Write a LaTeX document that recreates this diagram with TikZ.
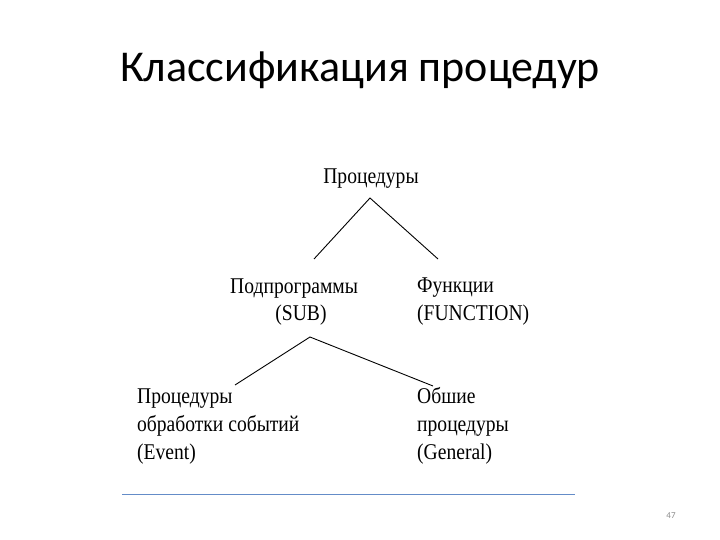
\documentclass[tikz,border=0pt]{standalone}
\usepackage{fontspec}
\setmainfont{Liberation Serif}
\newfontfamily\titlefont{Carlito}
\newfontfamily\tnr[FakeStretch=0.87]{Liberation Serif}
\begin{document}
\begin{tikzpicture}[x=1pt,y=-1pt,
  lbl/.style={inner sep=0pt, anchor=base west, align=left, font=\tnr\fontsize{22.5}{28}\selectfont},
  conn/.style={draw=black, line width=0.9pt}]
\useasboundingbox (0,0) rectangle (720,540);
\fill[white] (0,0) rectangle (720,540);
\node[inner sep=0pt, anchor=base, font=\titlefont\fontsize{44}{52}\selectfont] (title) at (360,82) {Классификация процедур};
\node[lbl, anchor=base] (root) at (371,184) {Процедуры};
\node[lbl] (sub) at (230,293) {Подпрограммы};
\node[lbl, anchor=base] (subb) at (301,320) {(SUB)};
\node[lbl] (fun) at (417,320) {Функции\\(FUNCTION)};
\node[lbl] (ev) at (137,459) {Процедуры\\обработки событий\\(Event)};
\node[lbl] (gen) at (417,459) {Обшие\\процедуры\\(General)};
\coordinate (a1) at (370,198);
\coordinate (l1) at (314,259);
\coordinate (r1) at (438,259);
\coordinate (a2) at (310,337);
\coordinate (l2) at (235,385);
\coordinate (r2) at (433,386);
\draw[conn] (l1) -- (a1) -- (r1);
\draw[conn] (l2) -- (a2) -- (r2);
\draw[draw={rgb,255:red,100;green,140;blue,200}, line width=0.8pt] (122,494) coordinate (h1) -- (575,494) coordinate (h2);
\node[inner sep=0pt, anchor=base, text={rgb,255:red,140;green,140;blue,140}, font=\titlefont\fontsize{9}{10}\selectfont] (num) at (671,518) {47};
\end{tikzpicture}
\end{document}
